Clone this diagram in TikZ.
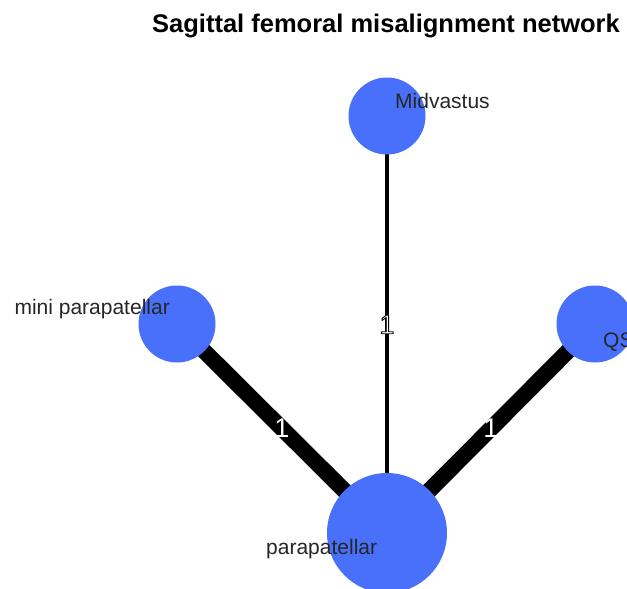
\documentclass[tikz,border=0pt]{standalone}
\usepackage{fontspec}
\setmainfont{Liberation Sans}
\definecolor{nodeblue}{RGB}{72,112,250}
\newcommand{\outlinedtext}[1]{{\color{white}\special{pdf:literal direct 0 G 0.9 w 1 j 2 Tr}#1\special{pdf:literal direct 0 Tr}}}
\begin{document}
\begin{tikzpicture}[x=1pt,y=-1pt,
  vert/.style={circle,fill=nodeblue,draw=none,inner sep=0pt},
  small/.style={vert,minimum size=77pt},
  big/.style={vert,minimum size=120pt},
  vlabel/.style={font=\fontsize{21}{21}\selectfont,text=black!85,inner sep=0pt},
  elabel/.style={font=\fontsize{27}{27}\selectfont,inner sep=0pt},
  thin edge/.style={line width=4pt,black},
  thick edge/.style={line width=16pt,black}]
\useasboundingbox (0,0) rectangle (627,589);
\clip (0,0) rectangle (627,589);
\fill[white] (0,0) rectangle (627,589);
% vertex positions
\coordinate (pMid) at (387,116);
\coordinate (pMini) at (177,324);
\coordinate (pQS) at (595,324);
\coordinate (pPara) at (387,533);
% edges
\draw[thin edge] (pPara) -- (pMid) coordinate[midway] (eMid);
\draw[thick edge] (pPara) -- (pMini) coordinate[midway] (eMini);
\draw[thick edge] (pPara) -- (pQS) coordinate[midway] (eQS);
% vertices
\node[small] (Mid) at (pMid) {};
\node[small] (Mini) at (pMini) {};
\node[small] (QS) at (pQS) {};
\node[big] (Para) at (pPara) {};
% vertex labels
\node[vlabel,anchor=west] (lMid) at (395,101) {Midvastus};
\node[vlabel,anchor=east] (lMini) at (170,309) {mini parapatellar};
\node[vlabel,anchor=west] (lQS) at (603,342) {QS};
\node[vlabel,anchor=west] (lPara) at (266,549) {parapatellar};
% edge labels
\node[elabel] (lMid1) at (eMid) {\outlinedtext{1}};
\node[elabel,text=white] (lMini1) at (eMini) {1};
\node[elabel,text=white] (lQS1) at (eQS) {1};
% title
\node[font=\bfseries\fontsize{25.5}{25.5}\selectfont,anchor=west,inner sep=0pt] (title) at (152,26) {Sagittal femoral misalignment network};
\end{tikzpicture}
\end{document}
